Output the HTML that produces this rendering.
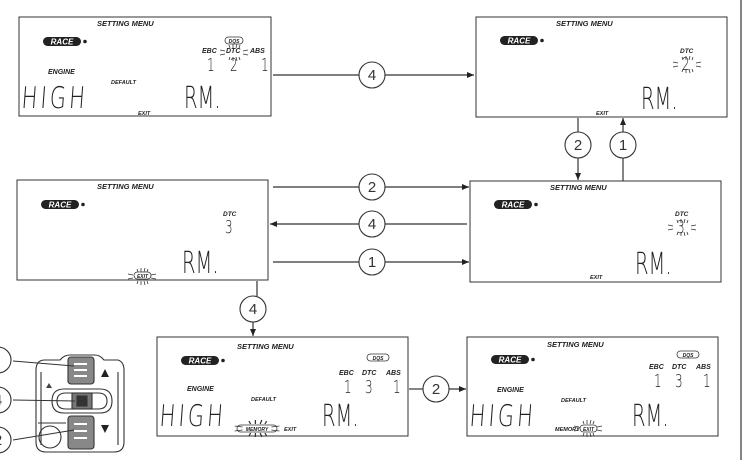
<!DOCTYPE html>
<html><head><meta charset="utf-8"><style>
html,body{margin:0;padding:0;background:#fff;}
svg{display:block;}
.sm{font-family:"Liberation Sans",sans-serif;font-style:italic;font-weight:bold;fill:#222;}
.seg{font-family:"DejaVu Sans","Liberation Sans",sans-serif;font-weight:200;fill:#222;stroke:none;}
.num{font-family:"Liberation Sans",sans-serif;fill:#333;font-size:15px;}
</style></head><body>
<svg width="745" height="460" viewBox="0 0 745 460" xmlns="http://www.w3.org/2000/svg">
<defs>
<marker id="ah" markerWidth="8" markerHeight="8" refX="7" refY="4" orient="auto" markerUnits="userSpaceOnUse">
<path d="M0,1 L7,4 L0,7 z" fill="#222"/></marker>
<g id="race">
<rect x="0" y="0" width="38" height="9" rx="4.5" fill="#222"/>
<text x="19" y="7.5" text-anchor="middle" font-family="Liberation Sans,sans-serif" font-style="italic" font-weight="bold" font-size="8" fill="#fff">RACE</text>
<circle cx="42" cy="4.5" r="1.8" fill="#222"/>
</g>
<g id="flash" stroke="#333" stroke-width="0.8">
<line x1="-14" y1="-2" x2="-9" y2="-1"/><line x1="-14" y1="3" x2="-9" y2="2"/>
<line x1="9" y1="-1" x2="14" y2="-2"/><line x1="9" y1="2" x2="14" y2="3"/>
<line x1="-5" y1="-7" x2="-4" y2="-4"/><line x1="-1" y1="-8" x2="-1" y2="-4"/><line x1="3" y1="-8" x2="2" y2="-4"/><line x1="6" y1="-7" x2="5" y2="-4"/>
<line x1="-5" y1="8" x2="-4" y2="5"/><line x1="-1" y1="9" x2="-1" y2="5"/><line x1="3" y1="9" x2="2" y2="5"/><line x1="6" y1="8" x2="5" y2="5"/>
</g>
</defs>

<line x1="741" y1="0" x2="741" y2="460" stroke="#333" stroke-width="1.2"/>

<!-- Box1 -->
<g transform="translate(19,17)">
<rect x="0" y="0" width="252" height="99" fill="#fff" stroke="#333" stroke-width="1"/>
<text class="sm" x="78" y="9" font-size="7.5">SETTING MENU</text>
<use href="#race" x="24" y="20"/>
<text class="sm" x="29" y="57" font-size="7">ENGINE</text>
<text class="sm" x="92" y="67" font-size="5.5">DEFAULT</text>
<text class="seg" x="2" y="91" font-size="26" transform="translate(2,91) scale(0.8,1.15) skewX(-6) translate(-2,-91)" letter-spacing="4">HIGH</text>
<text class="seg" x="165" y="91" font-size="26" transform="translate(165,91) scale(0.75,1.15) translate(-165,-91)">RM.</text>
<text class="sm" x="119" y="98" font-size="5.5">EXIT</text>
<rect x="206" y="20" width="18" height="7" rx="3.5" fill="none" stroke="#333" stroke-width="0.8"/>
<text class="sm" x="215" y="26" font-size="5" text-anchor="middle">DQS</text>
<text class="sm" x="183" y="36" font-size="7">EBC</text>
<text class="sm" x="207" y="36" font-size="7">DTC</text>
<text class="sm" x="231" y="36" font-size="7">ABS</text>
<use href="#flash" x="215" y="35"/>
<text class="seg" x="188" y="54" font-size="16" transform="translate(188,54) scale(0.75,1.1) translate(-188,-54)">1</text>
<text class="seg" x="211" y="54" font-size="16" transform="translate(211,54) scale(0.75,1.1) translate(-211,-54)">2</text>
<text class="seg" x="242" y="54" font-size="16" transform="translate(242,54) scale(0.75,1.1) translate(-242,-54)">1</text>
</g>

<!-- Box2 -->
<g transform="translate(476,17)">
<rect x="0" y="0" width="251" height="100" fill="#fff" stroke="#333" stroke-width="1"/>
<text class="sm" x="80" y="9" font-size="7.5">SETTING MENU</text>
<use href="#race" x="24" y="19"/>
<text class="sm" x="204" y="36" font-size="6.5">DTC</text>
<text class="seg" x="206" y="53" font-size="16" transform="translate(206,53) scale(0.75,1.1) translate(-206,-53)">2</text>
<use href="#flash" x="211" y="47"/>
<text class="seg" x="165" y="92" font-size="26" transform="translate(165,92) scale(0.75,1.15) translate(-165,-92)">RM.</text>
<text class="sm" x="120" y="98" font-size="5.5">EXIT</text>
</g>

<!-- Box3 -->
<g transform="translate(17,180)">
<rect x="0" y="0" width="251" height="100" fill="#fff" stroke="#333" stroke-width="1"/>
<text class="sm" x="80" y="9" font-size="7.5">SETTING MENU</text>
<use href="#race" x="24" y="20"/>
<text class="sm" x="206" y="36" font-size="6.5">DTC</text>
<text class="seg" x="208" y="53" font-size="16" transform="translate(208,53) scale(0.75,1.1) translate(-208,-53)">3</text>
<text class="seg" x="165" y="93" font-size="26" transform="translate(165,93) scale(0.75,1.15) translate(-165,-93)">RM.</text>
<rect x="117" y="92" width="17" height="7" rx="3.5" fill="none" stroke="#333" stroke-width="0.8"/>
<text class="sm" x="125.5" y="98" font-size="5" text-anchor="middle">EXIT</text>
<use href="#flash" x="125" y="96"/>
</g>

<!-- Box4 -->
<g transform="translate(470,181)">
<rect x="0" y="0" width="251" height="101" fill="#fff" stroke="#333" stroke-width="1"/>
<text class="sm" x="80" y="9" font-size="7.5">SETTING MENU</text>
<use href="#race" x="24" y="19"/>
<text class="sm" x="205" y="35" font-size="6.5">DTC</text>
<text class="seg" x="207" y="52" font-size="16" transform="translate(207,52) scale(0.75,1.1) translate(-207,-52)">3</text>
<use href="#flash" x="212" y="46"/>
<text class="seg" x="165" y="93" font-size="26" transform="translate(165,93) scale(0.75,1.15) translate(-165,-93)">RM.</text>
<text class="sm" x="120" y="98" font-size="5.5">EXIT</text>
</g>

<!-- Box5 -->
<g transform="translate(157,337)">
<rect x="0" y="0" width="251" height="99" fill="#fff" stroke="#333" stroke-width="1"/>
<text class="sm" x="80" y="12" font-size="7.5">SETTING MENU</text>
<use href="#race" x="24" y="19"/>
<text class="sm" x="30" y="54" font-size="7">ENGINE</text>
<text class="sm" x="94" y="64" font-size="5.5">DEFAULT</text>
<text class="seg" x="2" y="89" font-size="26" transform="translate(2,89) scale(0.8,1.15) skewX(-6) translate(-2,-89)" letter-spacing="4">HIGH</text>
<text class="seg" x="165" y="89" font-size="26" transform="translate(165,89) scale(0.75,1.15) translate(-165,-89)">RM.</text>
<rect x="80" y="88" width="40" height="7" rx="3.5" fill="none" stroke="#333" stroke-width="0.8"/>
<text class="sm" x="100" y="94" font-size="5" text-anchor="middle">MEMORY</text>
<use href="#flash" x="100" y="91" transform="translate(100,91) scale(1.6,1) translate(-100,-91)"/>
<text class="sm" x="127" y="94" font-size="5.5">EXIT</text>
<rect x="210" y="17" width="22" height="7" rx="3.5" fill="none" stroke="#333" stroke-width="0.8"/>
<text class="sm" x="221" y="23" font-size="5" text-anchor="middle">DQS</text>
<text class="sm" x="182" y="38" font-size="7">EBC</text>
<text class="sm" x="205" y="38" font-size="7">DTC</text>
<text class="sm" x="229" y="38" font-size="7">ABS</text>
<text class="seg" x="187" y="56" font-size="16" transform="translate(187,56) scale(0.75,1.1) translate(-187,-56)">1</text>
<text class="seg" x="208" y="56" font-size="16" transform="translate(208,56) scale(0.75,1.1) translate(-208,-56)">3</text>
<text class="seg" x="236" y="56" font-size="16" transform="translate(236,56) scale(0.75,1.1) translate(-236,-56)">1</text>
</g>

<!-- Box6 -->
<g transform="translate(467,337)">
<rect x="0" y="0" width="251" height="99" fill="#fff" stroke="#333" stroke-width="1"/>
<text class="sm" x="80" y="10" font-size="7.5">SETTING MENU</text>
<use href="#race" x="24" y="18"/>
<text class="sm" x="30" y="55" font-size="7">ENGINE</text>
<text class="sm" x="94" y="65" font-size="5.5">DEFAULT</text>
<text class="seg" x="2" y="89" font-size="26" transform="translate(2,89) scale(0.8,1.15) skewX(-6) translate(-2,-89)" letter-spacing="4">HIGH</text>
<text class="seg" x="165" y="89" font-size="26" transform="translate(165,89) scale(0.75,1.15) translate(-165,-89)">RM.</text>
<text class="sm" x="88" y="94" font-size="5.5">MEMORY</text>
<rect x="113" y="88" width="17" height="7" rx="3.5" fill="none" stroke="#333" stroke-width="0.8"/>
<text class="sm" x="121.5" y="94" font-size="5" text-anchor="middle">EXIT</text>
<use href="#flash" x="121" y="91"/>
<rect x="210" y="14" width="22" height="7" rx="3.5" fill="none" stroke="#333" stroke-width="0.8"/>
<text class="sm" x="221" y="20" font-size="5" text-anchor="middle">DQS</text>
<text class="sm" x="182" y="32" font-size="7">EBC</text>
<text class="sm" x="205" y="32" font-size="7">DTC</text>
<text class="sm" x="229" y="32" font-size="7">ABS</text>
<text class="seg" x="187" y="50" font-size="16" transform="translate(187,50) scale(0.75,1.1) translate(-187,-50)">1</text>
<text class="seg" x="208" y="50" font-size="16" transform="translate(208,50) scale(0.75,1.1) translate(-208,-50)">3</text>
<text class="seg" x="236" y="50" font-size="16" transform="translate(236,50) scale(0.75,1.1) translate(-236,-50)">1</text>
</g>

<!-- connectors -->
<g stroke="#333" stroke-width="1.2" fill="none">
<line x1="273" y1="75" x2="359" y2="75"/><line x1="385" y1="75" x2="474" y2="75" marker-end="url(#ah)"/>
<line x1="273" y1="187" x2="359" y2="187"/><line x1="385" y1="187" x2="469" y2="187" marker-end="url(#ah)"/>
<line x1="467" y1="224" x2="385" y2="224"/><line x1="359" y1="224" x2="270" y2="224" marker-end="url(#ah)"/>
<line x1="273" y1="262" x2="359" y2="262"/><line x1="385" y1="262" x2="469" y2="262" marker-end="url(#ah)"/>
<line x1="578" y1="118" x2="578" y2="132"/><line x1="578" y1="158" x2="578" y2="180" marker-end="url(#ah)"/>
<line x1="623" y1="181" x2="623" y2="158"/><line x1="623" y1="132" x2="623" y2="118" marker-end="url(#ah)"/>
<line x1="257" y1="281" x2="257" y2="296"/><line x1="253" y1="322" x2="253" y2="336" marker-end="url(#ah)"/>
<line x1="409" y1="389" x2="423" y2="389"/><line x1="449" y1="389" x2="466" y2="389" marker-end="url(#ah)"/>
</g>
<g fill="#fff" stroke="#333" stroke-width="1.1">
<circle cx="372" cy="75" r="13"/><circle cx="372" cy="187" r="13"/><circle cx="372" cy="224" r="13"/><circle cx="372" cy="262" r="13"/>
<circle cx="578" cy="145" r="13"/><circle cx="623" cy="145" r="13"/><circle cx="253" cy="309" r="13"/><circle cx="436" cy="389" r="13"/>
<circle cx="-2" cy="360" r="13"/><circle cx="-2" cy="400" r="13"/><circle cx="-2" cy="440" r="13"/>
</g>
<g class="num" text-anchor="middle">
<text x="372" y="80">4</text><text x="372" y="192">2</text><text x="372" y="229">4</text><text x="372" y="267">1</text>
<text x="578" y="150">2</text><text x="623" y="150">1</text><text x="253" y="314">4</text><text x="436" y="394">2</text>
<text x="-2" y="405">4</text><text x="-2" y="445">2</text>
</g>

<!-- controller -->
<g stroke="#333" stroke-width="1.1" fill="none">
<path d="M36,370 Q36,360 45,360 L60,360 Q64,355 70,355 L95,355 Q100,355 104,360 L118,360 Q124,362 124,370 L124,442 Q124,452 114,452 L46,452 Q36,452 36,442 Z"/>
<path d="M41,372 L41,445 M118,372 L118,445"/>
<rect x="68" y="357" width="26" height="27" rx="3" fill="#888"/>
<path d="M74,364 h13 M74,370 h13 M74,376 h13" stroke="#fff" stroke-width="2"/>
<path d="M52,401 Q52,389 64,389 L100,389 Q112,389 112,401 Q112,413 100,413 L64,413 Q52,413 52,401 Z"/>
<path d="M57,401 Q57,393 66,393 L98,393 Q107,393 107,401 Q107,409 98,409 L66,409 Q57,409 57,401 Z"/>
<rect x="72" y="393" width="20" height="16" fill="#777"/>
<rect x="77" y="396" width="10" height="10" fill="#333"/>
<rect x="68" y="416" width="26" height="33" rx="3" fill="#888"/>
<path d="M74,424 h13 M74,431 h13 M74,438 h13" stroke="#fff" stroke-width="2"/>
<circle cx="50" cy="437" r="11"/>
<path d="M38,423 L66,423"/>
<line x1="13" y1="361" x2="74" y2="366"/>
<line x1="13" y1="400" x2="75" y2="401"/>
<line x1="13" y1="440" x2="74" y2="430"/>
</g>
<path d="M101,377 L105,369 L109,377 Z M101,425 L105,433 L109,425 Z" fill="#222"/>
<path d="M46,388 L49,383 L52,388 Z" fill="#444"/>
</svg>
</body></html>
